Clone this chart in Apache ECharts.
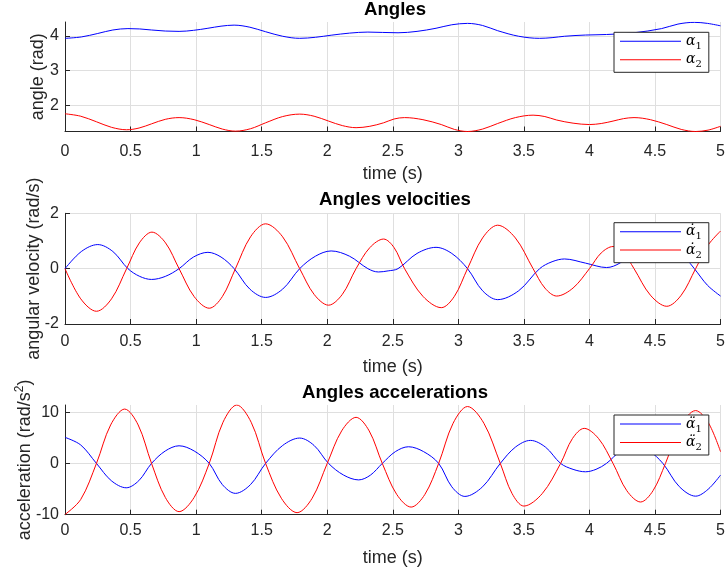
<!DOCTYPE html>
<html>
<head>
<meta charset="utf-8">
<script src="https://cdn.jsdelivr.net/npm/echarts@6/dist/echarts.min.js"></script>
<style>
  html, body { margin: 0; padding: 0; background: #fff; }
  #chart { width: 728px; height: 574px; }
</style>
</head>
<body>
<div id="chart"></div>
<script>
// Double pendulum: joint angles, angular velocities and angular accelerations over 5 s.

// Angles (rad)
const alpha1T = [0, 0.125, 0.25, 0.365, 0.48, 0.57, 0.66, 0.765, 0.87, 0.98, 1.09, 1.19, 1.29, 1.41, 1.53, 1.66, 1.79, 1.91, 2.03, 2.17, 2.31, 2.42, 2.54, 2.685, 2.83, 2.95, 3.07, 3.185, 3.3, 3.46, 3.62, 3.715, 3.81, 3.97, 4.13, 4.34, 4.55, 4.675, 4.8, 4.9, 5];
const alpha1  = [3.93, 3.97, 4.07, 4.17, 4.21, 4.20, 4.17, 4.14, 4.13, 4.16, 4.22, 4.28, 4.31, 4.25, 4.12, 3.99, 3.93, 3.96, 4.02, 4.08, 4.11, 4.10, 4.09, 4.13, 4.22, 4.32, 4.36, 4.30, 4.15, 3.99, 3.93, 3.95, 3.99, 4.025, 4.04, 4.09, 4.21, 4.34, 4.39, 4.36, 4.29];
const alpha2T = [0, 0.12, 0.24, 0.355, 0.47, 0.565, 0.66, 0.765, 0.87, 0.985, 1.1, 1.2, 1.3, 1.415, 1.53, 1.66, 1.79, 1.9, 2.01, 2.115, 2.22, 2.325, 2.43, 2.51, 2.59, 2.73, 2.87, 2.97, 3.07, 3.185, 3.3, 3.435, 3.57, 3.66, 3.75, 3.875, 4.0, 4.09, 4.18, 4.26, 4.34, 4.465, 4.59, 4.7, 4.81, 4.905, 5];
const alpha2  = [1.76, 1.69, 1.53, 1.37, 1.30, 1.35, 1.47, 1.60, 1.65, 1.59, 1.45, 1.32, 1.26, 1.33, 1.50, 1.68, 1.75, 1.69, 1.55, 1.42, 1.36, 1.40, 1.50, 1.61, 1.65, 1.59, 1.45, 1.31, 1.25, 1.32, 1.48, 1.65, 1.72, 1.68, 1.58, 1.49, 1.45, 1.48, 1.55, 1.62, 1.65, 1.59, 1.45, 1.31, 1.25, 1.29, 1.40];

// Angular velocities (rad/s)
const omega1T = [0, 0.125, 0.25, 0.365, 0.48, 0.57, 0.66, 0.765, 0.87, 0.98, 1.09, 1.19, 1.29, 1.41, 1.53, 1.66, 1.79, 1.91, 2.03, 2.17, 2.31, 2.39, 2.465, 2.54, 2.685, 2.83, 2.95, 3.07, 3.185, 3.3, 3.46, 3.62, 3.715, 3.81, 3.97, 4.13, 4.34, 4.55, 4.675, 4.8, 4.9, 5];
const omega1  = [0, 0.62, 0.87, 0.62, 0, -0.28, -0.39, -0.28, 0, 0.42, 0.59, 0.42, 0, -0.74, -1.04, -0.74, 0, 0.45, 0.64, 0.45, 0, -0.12, -0.08, 0, 0.55, 0.77, 0.55, 0, -0.8, -1.12, -0.8, 0, 0.25, 0.35, 0.2, 0.04, 0.5, 0.95, 0.68, 0, -0.6, -0.99];
const omega2T = [0, 0.12, 0.24, 0.355, 0.47, 0.567, 0.663, 0.767, 0.87, 0.985, 1.1, 1.2, 1.3, 1.415, 1.53, 1.66, 1.79, 1.9, 2.01, 2.115, 2.22, 2.325, 2.43, 2.51, 2.59, 2.73, 2.87, 2.97, 3.07, 3.185, 3.3, 3.435, 3.57, 3.66, 3.75, 3.875, 4.0, 4.09, 4.18, 4.26, 4.34, 4.465, 4.59, 4.7, 4.81, 4.905, 5];
const omega2  = [0, -1.09, -1.54, -1.09, 0, 0.93, 1.32, 0.93, 0, -1.01, -1.43, -1.01, 0, 1.15, 1.62, 1.15, 0, -0.93, -1.32, -0.93, 0, 0.76, 1.07, 0.76, 0, -1.0, -1.41, -1.0, 0, 1.11, 1.57, 1.11, 0, -0.7, -0.99, -0.7, 0, 0.57, 0.8, 0.57, 0, -0.96, -1.36, -0.96, 0, 0.85, 1.36];

// Angular accelerations (rad/s^2)
const accel1T = [0, 0.12, 0.24, 0.353, 0.467, 0.563, 0.66, 0.765, 0.87, 0.985, 1.1, 1.2, 1.3, 1.415, 1.53, 1.66, 1.79, 1.9, 2.01, 2.125, 2.24, 2.33, 2.42, 2.52, 2.62, 2.735, 2.85, 2.95, 3.05, 3.185, 3.32, 3.435, 3.55, 3.665, 3.78, 3.875, 3.97, 4.05, 4.13, 4.24, 4.35, 4.455, 4.56, 4.685, 4.81, 4.905, 5];
const accel1  = [5.13, 3.63, 0, -3.4, -4.8, -3.4, 0, 2.45, 3.47, 2.45, 0, -4.17, -5.9, -4.17, 0, 3.53, 4.99, 3.53, 0, -2.3, -3.25, -2.3, 0, 2.32, 3.28, 2.32, 0, -4.6, -6.5, -4.6, 0, 3.2, 4.53, 3.2, 0, -1.17, -1.65, -1.17, 0, 2.47, 3.5, 2.47, 0, -4.56, -6.45, -5.1, -2.3];
const accel2T = [0, 0.12, 0.24, 0.348, 0.455, 0.558, 0.66, 0.765, 0.87, 0.985, 1.1, 1.205, 1.31, 1.42, 1.53, 1.65, 1.77, 1.885, 2.0, 2.11, 2.22, 2.32, 2.42, 2.53, 2.64, 2.745, 2.85, 2.96, 3.07, 3.195, 3.32, 3.41, 3.5, 3.64, 3.78, 3.87, 3.96, 4.07, 4.18, 4.285, 4.39, 4.485, 4.58, 4.695, 4.81, 4.905, 5];
const accel2  = [-10.06, -7.1, 0, 7.57, 10.7, 7.57, 0, -6.7, -9.5, -6.7, 0, 8.1, 11.5, 8.1, 0, -6.86, -9.7, -6.86, 0, 6.4, 9.07, 6.4, 0, -6.1, -8.6, -6.1, 0, 7.9, 11.2, 7.9, 0, -5.94, -8.4, -5.94, 0, 4.88, 6.9, 4.88, 0, -5.37, -7.6, -5.37, 0, 7.35, 10.4, 8.1, 2.3];

// Axis ticks
const timeTickStep = 0.5;
const angleTicks = [2, 3, 4];
const velocityTicks = [-2, 0, 2];
const accelTicks = [-10, 0, 10];

// Series names (legend entries): symbol + index
const names = {
  a1: 'α1', a2: 'α2',
  w1: 'α\u03071', w2: 'α\u03072',
  e1: 'α\u03081', e2: 'α\u03082'
};

const zip = (t, v) => t.map((x, i) => [x, v[i]]);

const FONT = 'Liberation Sans, Arial, Helvetica, sans-serif';
const SERIF = 'DejaVu Serif, Liberation Serif, serif';
const INK = '#262626';
const GRID = '#dfdfdf';

const grids = [
  { left: 65, top: 22, width: 660, height: 109.5 },
  { left: 65, top: 213.3, width: 660, height: 110.7 },
  { left: 65, top: 405, width: 660, height: 109.7 }
];

function xAxisFor(i, labelMargin, gap) {
  return {
    type: 'value', gridIndex: i, min: 0, max: 5, interval: timeTickStep,
    name: 'time (s)', nameLocation: 'middle', nameGap: gap, nameMoveOverlap: false,
    nameTextStyle: { fontFamily: FONT, fontSize: 18, color: INK },
    axisLine: { show: true, onZero: false, lineStyle: { color: INK, width: 1 } },
    axisTick: { show: true, inside: true, length: 5, lineStyle: { color: INK } },
    axisLabel: { fontFamily: FONT, fontSize: 16, color: INK, margin: labelMargin, showMinLabel: true, showMaxLabel: true },
    splitLine: { show: true, lineStyle: { color: GRID, width: 1 } }
  };
}

function yAxisFor(i, min, max, ticks, name, gap, nameStyle) {
  return {
    type: 'value', gridIndex: i, min: min, max: max,
    name: name, nameLocation: 'middle', nameGap: gap, nameRotate: 90, nameMoveOverlap: false,
    nameTextStyle: Object.assign({ fontFamily: FONT, fontSize: 18, color: INK }, nameStyle || {}),
    axisLine: { show: true, onZero: false, lineStyle: { color: INK, width: 1 } },
    axisTick: { show: true, inside: true, length: 5, lineStyle: { color: INK }, customValues: ticks },
    axisLabel: { fontFamily: FONT, fontSize: 16, color: INK, margin: 6, customValues: ticks },
    splitLine: { show: true, lineStyle: { color: GRID, width: 1 } }
  };
}

function legendFor(top, data) {
  return {
    orient: 'vertical', left: 614, top: top, data: data,
    icon: 'rect', itemWidth: 61, itemHeight: 1, itemGap: 1.4,
    padding: [2, 7, 2.6, 6],
    borderColor: INK, borderWidth: 1, borderRadius: 0, backgroundColor: '#ffffff',
    selectedMode: false,
    formatter: n => '{g|' + n.slice(0, -1) + '}{s|' + n.slice(-1) + '}',
    textStyle: {
      color: '#000',
      rich: {
        g: { fontFamily: SERIF, fontStyle: 'italic', fontSize: 14, lineHeight: 20, color: '#000' },
        s: { fontFamily: SERIF, fontSize: 10, lineHeight: 12, verticalAlign: 'bottom', color: '#000' }
      }
    }
  };
}

// Curves pass through the sampled points with a Catmull-Rom-like tension
function lineSeries(name, i, data, color) {
  return {
    type: 'line', name: name, xAxisIndex: i, yAxisIndex: i, data: data,
    smooth: 0.34, symbol: 'none', color: color,
    lineStyle: { color: color, width: 1 }, animation: false
  };
}

function titleFor(text, top) {
  return {
    text: text, left: 395, top: top, textAlign: 'center', padding: 0,
    textStyle: { fontFamily: FONT, fontSize: 18.6, fontWeight: 'bold', color: '#000' }
  };
}

const BLUE = '#0000ff';
const RED = '#ff0000';

const option = {
  backgroundColor: '#ffffff',
  animation: false,
  title: [
    titleFor('Angles', 0.7),
    titleFor('Angles velocities', 190.7),
    titleFor('Angles accelerations', 383.2)
  ],
  grid: grids,
  xAxis: [xAxisFor(0, 12.5, 34), xAxisFor(1, 10, 34), xAxisFor(2, 8, 34)],
  yAxis: [
    yAxisFor(0, 1.25, 4.4, angleTicks, 'angle (rad)', 18),
    yAxisFor(1, -2, 2, velocityTicks, 'angular velocity (rad/s)', 22),
    yAxisFor(2, -10.1, 11.5, accelTicks, '{a|acceleration (rad/s}{p|2}{a|)}', 29, {
      rich: {
        a: { fontFamily: FONT, fontSize: 18, lineHeight: 22, color: INK },
        p: { fontFamily: FONT, fontSize: 12, lineHeight: 12, verticalAlign: 'top', color: INK }
      }
    })
  ],
  legend: [
    legendFor(32.3, [names.a1, names.a2]),
    legendFor(222.7, [names.w1, names.w2]),
    legendFor(415, [names.e1, names.e2])
  ],
  series: [
    lineSeries(names.a1, 0, zip(alpha1T, alpha1), BLUE),
    lineSeries(names.a2, 0, zip(alpha2T, alpha2), RED),
    lineSeries(names.w1, 1, zip(omega1T, omega1), BLUE),
    lineSeries(names.w2, 1, zip(omega2T, omega2), RED),
    lineSeries(names.e1, 2, zip(accel1T, accel1), BLUE),
    lineSeries(names.e2, 2, zip(accel2T, accel2), RED)
  ]
};

const chart = echarts.init(document.getElementById('chart'), null, { renderer: 'canvas' });
chart.setOption(option);
</script>
</body>
</html>
